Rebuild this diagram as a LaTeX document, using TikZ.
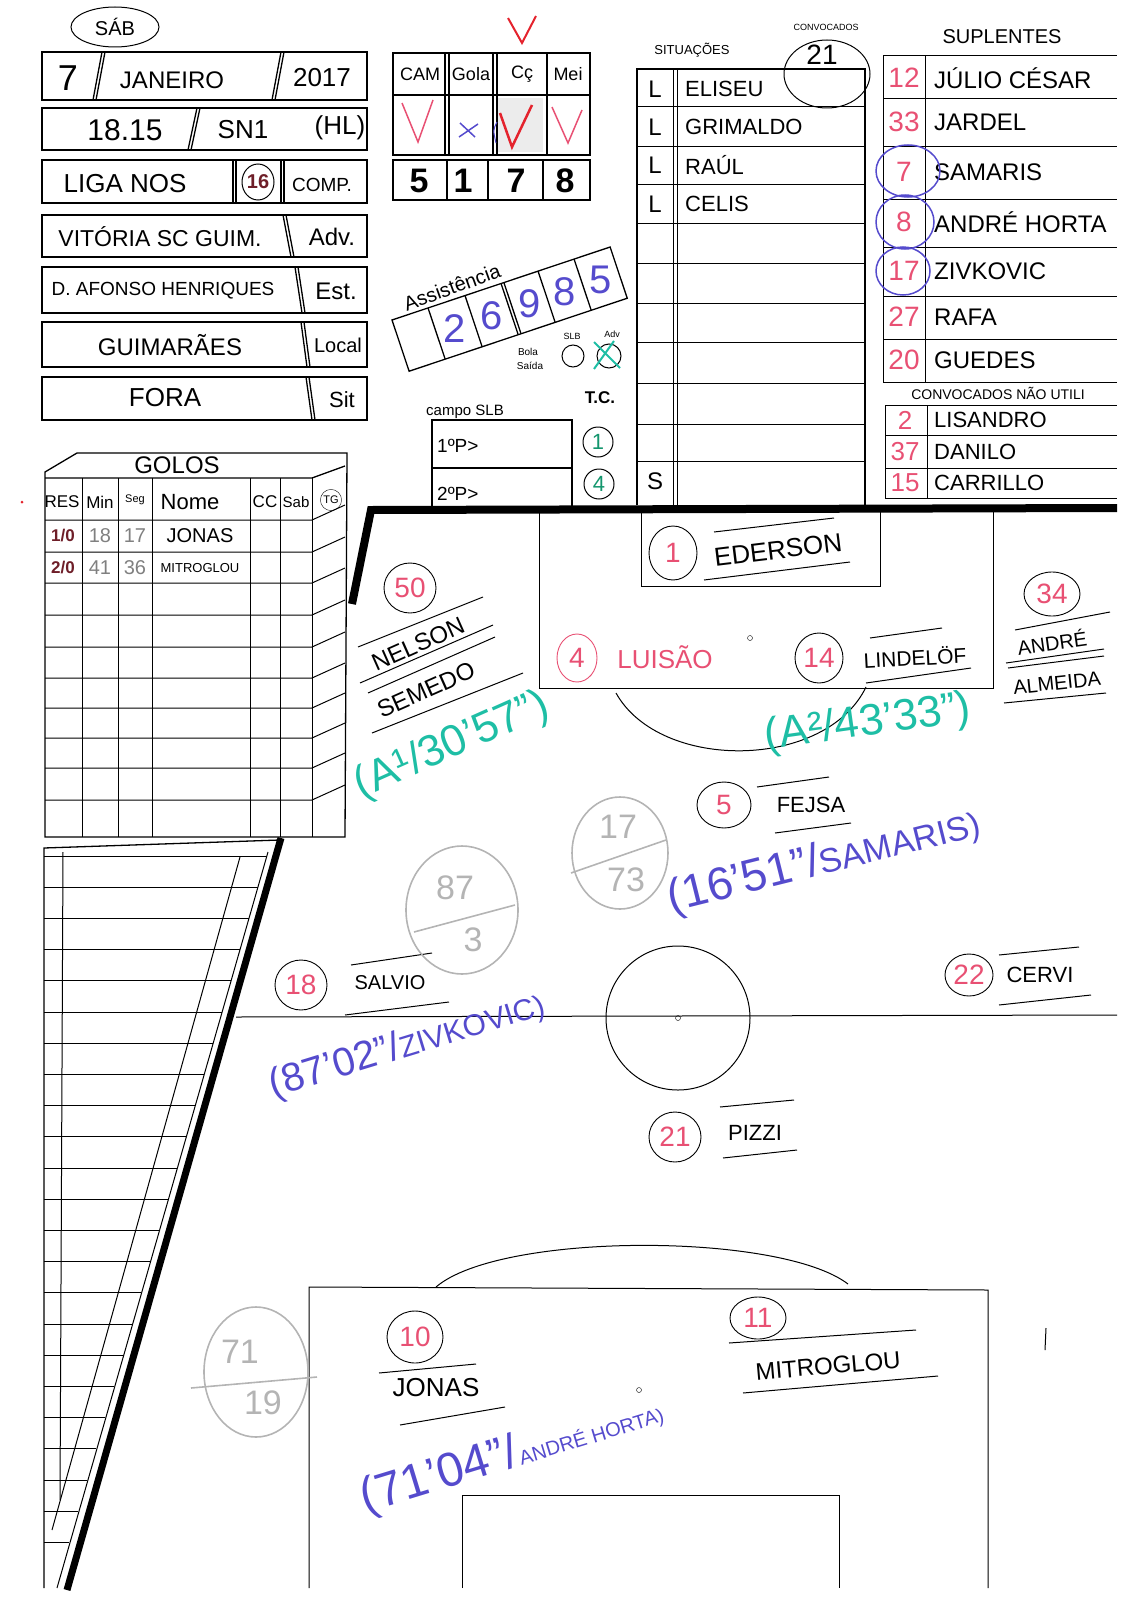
\documentclass[tikz,border=0pt]{standalone}
\usepackage{fontspec}
\setmainfont{Liberation Sans}
\usetikzlibrary{shapes.geometric}

\definecolor{inkred}{RGB}{232,80,115}
\definecolor{inkblue}{RGB}{85,75,205}
\definecolor{inkcyan}{RGB}{30,190,165}
\definecolor{inkgreen}{RGB}{20,150,110}
\definecolor{checkred}{RGB}{228,35,45}
\definecolor{pencil}{RGB}{180,180,180}
\definecolor{inkbrown}{RGB}{110,30,40}

\tikzset{
  hw/.style={font=\fontsize{#1}{#1}\selectfont, inner sep=0pt},
  pen/.style={line width=1pt},
  box/.style={line width=1.3pt},
  num/.style={draw, ellipse, line width=0.9pt, inner sep=0pt, minimum width=50pt,
    minimum height=48pt, text=inkred, font=\fontsize{28}{28}\selectfont},
  gcirc/.style={draw=pencil, line width=1.6pt},
}

\begin{document}
\begin{tikzpicture}[x=1pt,y=-1pt]
  \useasboundingbox (0,0) rectangle (1131,1600);

  % cabecalho
  \draw[pen] (115,27) ellipse [x radius=44, y radius=20];
  \node[hw=20] (dia) at (115,27) {SÁB};
  \foreach \y/\h in {52/100,108/150,160/203,215/257,267/313,322/367,377/420}
    \draw[box] (42,\y) rectangle (367,\h);
  \draw[box] (102,52) -- (93,100) (105,52) -- (96,100);
  \draw[box] (281,52) -- (272,100) (284,52) -- (275,100);
  \draw[box] (197,108) -- (188,150) (200,108) -- (191,150);
  \draw[box] (233,160) -- (233,203) (236,160) -- (236,203);
  \draw[box] (281,160) -- (281,203) (284,160) -- (284,203);
  \draw[box] (283,215) -- (291,257) (286,215) -- (294,257);
  \draw[box] (295,267) -- (302,313) (298,267) -- (305,313);
  \draw[box] (301,322) -- (307,367) (304,322) -- (310,367);
  \draw[box] (306,377) -- (312,420) (309,377) -- (315,420);
  \node[hw=36] (d) at (68,78) {7};
  \node[hw=24] (mes) at (172,80) {JANEIRO};
  \node[hw=26] (ano) at (322,78) {2017};
  \node[hw=30] (hora) at (125,130) {18.15};
  \node[hw=26] (tv) at (243,130) {SN1};
  \node[hw=26] (hl) at (340,128) {(HL)};
  \node[hw=26] (comp) at (125,184) {LIGA NOS};
  \draw[pen] (258,182) ellipse [x radius=16, y radius=18];
  \node[hw=20,text=inkbrown] (jor) at (258,182) {\bfseries 16};
  \node[hw=19] (compl) at (322,185) {COMP.};
  \node[hw=23] (adv) at (160,237) {VITÓRIA SC GUIM.};
  \node[hw=24] (advl) at (332,237) {Adv.};
  \node[hw=19] (est) at (163,291) {D. AFONSO HENRIQUES};
  \node[hw=24] (estl) at (336,291) {Est.};
  \node[hw=24] (local) at (170,345) {GUIMARÃES};
  \node[hw=20] (locall) at (338,345) {Local};
  \node[hw=26] (sit) at (165,398) {FORA};
  \node[hw=22] (sitl) at (342,400) {Sit};

  % equipamento
  \fill[gray!15] (497,98) rectangle (543,152);
  \draw[box] (393,53) rectangle (590,155);
  \draw[box] (393,95) -- (590,95);
  \foreach \x in {445,449,493,497,547}
    \draw[box] (\x,53) -- (\x,155);
  \draw[box] (393,160) rectangle (590,200);
  \foreach \x in {447,488,543}
    \draw[box] (\x,160) -- (\x,200);
  \node[hw=18] (cam) at (420,74) {CAM};
  \node[hw=18] (gola) at (471,74) {Gola};
  \node[hw=18] (calc) at (522,74) {Cç};
  \node[hw=18] (mei) at (568,74) {Mei};
  \draw[checkred,line width=2pt] (508,18) -- (522,43) -- (536,16);
  \draw[inkred,line width=1.5pt] (402,103) -- (418,142) -- (433,100);
  \draw[inkblue,line width=1.5pt] (460,123) -- (475,137) (459,137) -- (478,124);
  \draw[checkred,line width=2.5pt] (500,113) -- (512,147) -- (532,105);
  \draw[inkblue,line width=1pt] (497,122) .. controls (493,130) .. (496,143);
  \draw[inkred,line width=1.5pt] (552,107) -- (568,143) -- (582,110);
  \node[hw=34] (c1) at (419,181) {\bfseries 5};
  \node[hw=34] (c2) at (463,181) {\bfseries 1};
  \node[hw=34] (c3) at (516,181) {\bfseries 7};
  \node[hw=34] (c4) at (565,181) {\bfseries 8};

  % assistencia
  \node[hw=20,rotate=20] (assist) at (452,287) {Assistência};
  \begin{scope}[shift={(392,320)},rotate=18.5]
    \draw[box] (0,0) rectangle (230,54);
    \foreach \u in {38,77,115,118,154,192}
      \draw[box] (\u,0) -- (\u,54);
    \foreach \u/\v in {57/2,96/6,136/9,173/8,211/5}
      \node[hw=40,text=inkblue] at (\u,28) {\v};
  \end{scope}
  \node[hw=10] (bola) at (528,352) {Bola};
  \node[hw=10] (saida) at (530,366) {Saída};
  \node[hw=9] (slb) at (572,336) {SLB};
  \node[hw=9] (advb) at (612,334) {Adv};
  \draw[pen] (573,356) circle (11);
  \draw[pen] (609,356) circle (12);
  \draw[inkcyan,line width=2pt] (594,342) -- (620,368) (614,341) -- (594,369);
  \node[hw=17] (tc) at (600,398) {\bfseries T.C.};
  \node[hw=15] (campo) at (465,412) {campo SLB};
  \draw[box] (432,510) -- (432,420) -- (572,420) -- (572,510);
  \draw[box] (432,468) -- (572,468);
  \node[hw=19,anchor=west] (p1) at (437,446) {1ºP>};
  \node[hw=19,anchor=west] (p2) at (437,494) {2ºP>};
  \draw[pen] (598,442) circle (15);
  \draw[pen] (599,484) circle (15);
  \node[hw=22,text=inkgreen] (tc1) at (598,442) {1};
  \node[hw=22,text=inkgreen] (tc2) at (599,484) {4};

  % situacoes
  \node[hw=13] (sitt) at (692,50) {SITUAÇÕES};
  \draw[box] (637,505) -- (637,69) -- (865,69) -- (865,505);
  \draw[pen] (673,69) -- (673,505) (677,69) -- (677,505);
  \foreach \y in {107,146,184,223,263,303,342,383,424,461}
    \draw[pen] (637,\y) -- (865,\y);
  \foreach \y/\n in {89/ELISEU,127/GRIMALDO,165/RAÚL,204/CELIS}{
    \node[hw=24] at (655,\y) {L};
    \node[hw=22,anchor=west] at (685,\y) {\n};
  }
  \node[hw=24] (s) at (655,481) {S};
  \draw[pen] (827,74) ellipse [x radius=43, y radius=34];
  \node[hw=9] (conv) at (826,27) {CONVOCADOS};
  \node[hw=28] (nconv) at (822,55) {21};

  % suplentes
  \node[hw=20] (supl) at (1002,37) {SUPLENTES};
  \draw[pen] (883,382) -- (883,56) -- (1117,56);
  \draw[pen] (925,56) -- (925,382);
  \foreach \y in {99,146,199,247,296,339,382}
    \draw[pen] (883,\y) -- (1117,\y);
  \foreach \y/\k/\n in {78/12/JÚLIO CÉSAR,122/33/JARDEL,172/7/SAMARIS,222/8/ANDRÉ HORTA,
      271/17/ZIVKOVIC,317/27/RAFA,360/20/GUEDES}{
    \node[hw=28,text=inkred] at (904,\y) {\k};
    \node[hw=24,anchor=west] at (934,\y) {\n};
  }
  \draw[inkblue,line width=1.5pt] (908,171) ellipse [x radius=32, y radius=26];
  \draw[inkblue,line width=1.5pt] (905,222) ellipse [x radius=29, y radius=27];
  \draw[inkblue,line width=1.5pt] (903,271) ellipse [x radius=27, y radius=24];
  \node[hw=14] (nutil) at (998,393) {CONVOCADOS NÃO UTILI};
  \draw[pen] (885,498) -- (885,405) -- (1117,405);
  \draw[pen] (927,405) -- (927,498);
  \foreach \y in {435,468,498}
    \draw[pen] (885,\y) -- (1117,\y);
  \foreach \y/\k/\n in {420/2/LISANDRO,452/37/DANILO,483/15/CARRILLO}{
    \node[hw=26,text=inkred] at (905,\y) {\k};
    \node[hw=22,anchor=west] at (934,\y) {\n};
  }

  % golos
  \node[hw=24] (golos) at (177,465) {GOLOS};
  \draw[box] (45,837) -- (45,472) -- (77,453) -- (347,453) -- (345,837) -- cycle;
  \draw[box] (45,478) -- (312,478) -- (345,466);
  \foreach \y in {520,552,583,615,647,678,708,738,768,800}
    \draw[pen] (45,\y) -- (312,\y) -- (345,\y-15);
  \foreach \x in {82,118,152,250,280,312}
    \draw[pen] (\x,478) -- (\x,837);
  \node[hw=17] (res) at (62,502) {RES};
  \node[hw=17] (min) at (100,502) {Min};
  \node[hw=11] (seg) at (135,500) {Seg};
  \node[hw=22] (nome) at (190,502) {Nome};
  \node[hw=17] (cc) at (265,502) {CC};
  \node[hw=15] (sab) at (296,502) {Sab};
  \node[draw,circle,hw=11,inner sep=1.5pt] (tg) at (331,500) {TG};
  \node[hw=17,text=inkbrown] (r1) at (63,536) {\bfseries 1/0};
  \node[hw=17,text=inkbrown] (r2) at (63,568) {\bfseries 2/0};
  \node[hw=20,text=gray] (m1) at (100,536) {18};
  \node[hw=20,text=gray] (m2) at (100,568) {41};
  \node[hw=20,text=gray] (s1) at (135,536) {17};
  \node[hw=20,text=gray] (s2) at (135,568) {36};
  \node[hw=20] (g1) at (200,536) {JONAS};
  \node[hw=13] (g2) at (200,568) {MITROGLOU};
  \fill[checkred] (22,502) circle (1.5);

  % bancada
  \draw[box] (44,1588) -- (44,848) -- (280,840);
  \draw[pen] (63,852) -- (60,1500);
  \draw[pen] (240,857) -- (52,1530);
  \draw[pen] (268,852) -- (57,1588);
  \draw[line width=7pt] (281,838) -- (67,1590);
  \foreach \k in {0,...,22}{
    \pgfmathsetmacro\yy{856+31.2*\k}
    \pgfmathsetmacro\xx{268-0.288*(\yy-852)}
    \draw[pen] (44,\yy) -- (\xx,\yy);
  }

  % campo
  \draw[line width=8pt] (352,604) -- (371,510) -- (1117,508);
  \draw[pen] (539,512) -- (539,688) -- (993,688) -- (993,512);
  \draw[pen] (641,512) -- (641,586) -- (880,586) -- (880,512);
  \draw[pen] (616,693) .. controls (660,772) and (826,770) .. (866,687);
  \draw (750,638) circle (2.5);
  \draw[pen] (236,1017) -- (1117,1015);
  \draw[pen] (678,1018) circle (72);
  \draw (678,1018) circle (2.5);
  \draw[pen] (309,1588) -- (309,1287) -- (988,1290) -- (988,1588);
  \draw[pen] (462,1588) -- (462,1495) -- (839,1495) -- (839,1588);
  \draw[pen] (436,1287) .. controls (500,1232) and (780,1232) .. (848,1284);
  \draw (639,1390) circle (2.5);
  \draw[pen] (1046,1328) -- (1045,1350);

  % jogadores
  \node[num,minimum width=48pt,minimum height=54pt] (n1) at (673,553) {1};
  \node[hw=26,rotate=7] (ederson) at (778,550) {EDERSON};
  \draw[pen] (704,580) -- (850,562) (714,532) -- (834,518);

  \node[num,minimum width=52pt,minimum height=50pt] (n50) at (410,588) {50};
  \node[hw=24,rotate=24] (nelson) at (418,644) {NELSON};
  \node[hw=24,rotate=24] (semedo) at (426,690) {SEMEDO};
  \draw[pen] (358,647) -- (483,597) (360,683) -- (493,625) (368,693) -- (495,637)
    (372,733) -- (523,673);

  \node[num,draw=inkred,minimum width=40pt,minimum height=48pt] (n4) at (577,658) {4};
  \node[hw=26,text=inkred] (luisao) at (665,657) {LUISÃO};

  \node[num,minimum width=48pt,minimum height=50pt] (n14) at (819,658) {14};
  \node[hw=21,rotate=3] (lindelof) at (915,657) {LINDELÖF};
  \draw[pen] (870,638) -- (942,628) (866,683) -- (971,668);

  \node[num,minimum width=56pt,minimum height=44pt] (n34) at (1052,594) {34};
  \node[hw=20,rotate=8] (andre) at (1052,642) {ANDRÉ};
  \node[hw=20,rotate=6] (almeida) at (1057,683) {ALMEIDA};
  \draw[pen] (1015,630) -- (1110,612) (1006,663) -- (1104,649) (1008,668) -- (1104,656)
    (1004,703) -- (1106,693);

  \node[num,minimum width=54pt,minimum height=46pt] (n5) at (724,805) {5};
  \node[hw=22] (fejsa) at (811,805) {FEJSA};
  \draw[pen] (757,787) -- (829,777) (775,833) -- (851,823);

  \node[num,minimum width=52pt,minimum height=50pt] (n18) at (301,985) {18};
  \node[hw=20] (salvio) at (390,983) {SALVIO};
  \draw[pen] (351,965) -- (432,953) (345,1015) -- (449,1002);

  \node[num,minimum width=48pt,minimum height=42pt] (n22) at (969,975) {22};
  \node[hw=22] (cervi) at (1040,975) {CERVI};
  \draw[pen] (999,955) -- (1079,947) (999,1005) -- (1091,995);

  \node[num,minimum width=52pt,minimum height=50pt] (n21) at (675,1137) {21};
  \node[hw=22] (pizzi) at (755,1133) {PIZZI};
  \draw[pen] (720,1107) -- (794,1100) (723,1158) -- (797,1150);

  \node[num,minimum width=56pt,minimum height=52pt] (n10) at (415,1337) {10};
  \node[hw=26] (jonas) at (436,1388) {JONAS};
  \draw[pen] (379,1373) -- (476,1364) (400,1425) -- (505,1407);

  \node[num,minimum width=56pt,minimum height=42pt] (n11) at (758,1318) {11};
  \node[hw=24,rotate=5] (mitroglou) at (828,1366) {MITROGLOU};
  \draw[pen] (729,1343) -- (916,1330) (743,1393) -- (938,1376);

  % anotacoes
  \node[hw=44,text=inkcyan,rotate=24] (a1) at (452,746) {(A¹/30'57'')};
  \node[hw=44,text=inkcyan,rotate=8] (a2) at (868,724) {(A²/43'33'')};
  \node[text=inkblue,rotate=14,inner sep=0pt] (sub1) at (824,862)
    {\fontsize{46}{46}\selectfont(16'51''/\fontsize{34}{34}\selectfont SAMARIS)};
  \node[text=inkblue,rotate=17,inner sep=0pt] (sub2) at (407,1046)
    {\fontsize{40}{40}\selectfont(87'02''/\fontsize{30}{30}\selectfont ZIVKOVIC)};
  \node[text=inkblue,rotate=17,inner sep=0pt] (sub3) at (512,1455)
    {\fontsize{48}{48}\selectfont(71'04''/\fontsize{20}{20}\selectfont ANDRÉ HORTA)};

  \draw[gcirc] (620,853) ellipse [x radius=48, y radius=56];
  \node[hw=34,text=pencil] (f1a) at (618,827) {17};
  \node[hw=34,text=pencil] (f1b) at (626,880) {73};
  \draw[gcirc] (571,873) -- (666,840);
  \draw[gcirc] (462,910) ellipse [x radius=56, y radius=64];
  \node[hw=34,text=pencil] (f2a) at (455,888) {87};
  \node[hw=34,text=pencil] (f2b) at (473,940) {3};
  \draw[gcirc] (414,932) -- (515,905);
  \draw[gcirc] (256,1372) ellipse [x radius=52, y radius=65];
  \node[hw=34,text=pencil] (f3a) at (240,1352) {71};
  \node[hw=34,text=pencil] (f3b) at (263,1403) {19};
  \draw[gcirc] (191,1388) -- (317,1377);
\end{tikzpicture}
\end{document}
